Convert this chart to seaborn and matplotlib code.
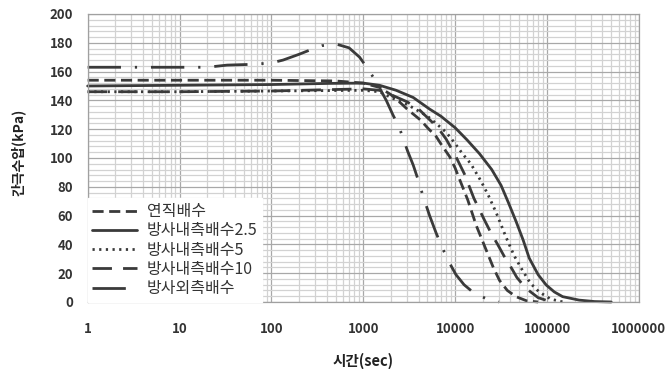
import matplotlib
matplotlib.use("Agg")
import matplotlib.pyplot as plt
import matplotlib.ticker as mticker
import numpy as np
import pandas as pd
import seaborn as sns

# Pore water pressure dissipation for each drainage condition (time in sec, pressure in kPa)
t_vertical = [1, 10, 100, 500, 1000, 1500, 2000, 2570, 3000, 4260, 5000, 6200, 7300, 8700,
              10000, 11200, 13700, 17000, 21800, 26000, 30400, 37000, 46000, 60000, 80000]
p_vertical = [154, 154, 154, 153.5, 152, 149, 144, 138, 134, 126, 121, 115, 108, 101,
              93, 85, 71, 53, 36, 24, 15, 8, 3.7, 0.8, 0]

t_radial_in_25 = [1, 10, 100, 430, 1000, 1500, 2280, 3500, 5260, 7000, 10000, 13500, 18400,
                  25000, 31600, 38000, 46000, 55000, 64000, 80000, 98000, 120000, 148000,
                  224000, 330000, 500000]
p_radial_in_25 = [150, 150.5, 151, 151.8, 152, 150.5, 147, 142, 134, 129, 121, 112.5, 103,
                  92, 81, 69, 56, 43, 30.5, 19, 11.8, 7, 3.7,
                  1.3, 0.3, 0]

t_radial_in_5 = [1, 10, 100, 1000, 1500, 2000, 3040, 3900, 5000, 6200, 7950, 10000,
                 12000, 14800, 19100, 23000, 28000, 35800, 44000, 54000, 66000, 82000,
                 110000, 150000]
p_radial_in_5 = [146, 146, 146.5, 147, 146, 142, 137, 133, 129, 124, 118, 110,
                 103, 96, 84, 74, 62, 45, 32, 22, 13, 7,
                 2, 0]

t_radial_in_10 = [1, 10, 100, 1000, 1500, 2000, 3000, 4000, 5000, 6500, 8000, 10000, 12600,
                  16000, 20800, 25000, 29000, 34000, 39000, 47000, 59000, 80000, 100000, 120000]
p_radial_in_10 = [146, 146, 146.5, 148, 147, 144, 139, 134, 128, 121, 113, 102, 89,
                  72, 57, 47, 40, 32, 26, 17, 9.5, 3, 1, 0]

t_radial_out = [1, 10, 20, 33, 60, 100, 134, 200, 263, 355, 513, 700, 912, 1120, 1380, 1780,
                2100, 2470, 3030, 3500, 3900, 4500, 5270, 6200, 7260, 8700, 10200, 12500,
                16200, 22400, 30000]
p_radial_out = [163, 163, 163, 164.5, 165, 166, 168, 172, 175, 178, 179, 176.5, 170, 162, 153, 140,
                130, 121, 105, 95, 86, 73, 60, 48, 37.5, 27, 19, 12,
                6, 2, 0]

labels = ["연직배수", "방사내측배수2.5", "방사내측배수5", "방사내측배수10", "방사외측배수"]
x_ticks = [1, 10, 100, 1000, 10000, 100000, 1000000]
y_ticks = [0, 20, 40, 60, 80, 100, 120, 140, 160, 180, 200]

series = [
    (labels[0], t_vertical, p_vertical, (4, 2)),
    (labels[1], t_radial_in_25, p_radial_in_25, None),
    (labels[2], t_radial_in_5, p_radial_in_5, (0.8, 1.6)),
    (labels[3], t_radial_in_10, p_radial_in_10, (7, 4)),
    (labels[4], t_radial_out, p_radial_out, (12, 5, 0.8, 5)),
]

frames = [pd.DataFrame({"time": t, "pressure": p, "case": name}) for name, t, p, _ in series]
data = pd.concat(frames, ignore_index=True)

sns.set_style("white")
plt.rcParams["font.family"] = ["Noto Sans CJK KR", "DejaVu Sans"]

line_color = "#3a3a3a"
fig = plt.figure(figsize=(6.69, 3.69), dpi=100)
ax = fig.add_axes([0.131, 0.1816, 0.824, 0.7805])

for name, _, _, dash in series:
    sub = data[data["case"] == name]
    kws = dict(color=line_color, linewidth=2.0, label=name, sort=False,
               estimator=None, ax=ax, clip_on=False)
    if dash is None:
        kws["linestyle"] = "-"
    else:
        kws["dashes"] = dash
    sns.lineplot(data=sub, x="time", y="pressure", **kws)

ax.set_xscale("log")
ax.set_xlim(1, 1e6)
ax.set_ylim(0, 200)
ax.set_xticks(x_ticks)
ax.xaxis.set_major_formatter(mticker.FuncFormatter(lambda v, _: f"{int(round(v))}"))
ax.xaxis.set_minor_locator(mticker.LogLocator(base=10, subs=np.arange(2, 10), numticks=20))
ax.xaxis.set_minor_formatter(mticker.NullFormatter())
ax.set_yticks(y_ticks)
ax.yaxis.set_minor_locator(mticker.MultipleLocator(4))

ax.grid(which="major", color="#a8a8a8", linewidth=0.9)
ax.grid(which="minor", color="#d2d2d2", linewidth=0.9)
ax.set_axisbelow(True)

for side in ["left", "bottom", "top", "right"]:
    ax.spines[side].set_color("#a0a0a0")
    ax.spines[side].set_linewidth(0.9)

ax.tick_params(which="major", direction="out", length=4.5, color="#a0a0a0",
               labelsize=9.5, labelcolor="#333333")
ax.tick_params(axis="y", pad=6)
ax.tick_params(axis="x", pad=10)
ax.tick_params(which="minor", length=0)
for lbl in ax.get_xticklabels() + ax.get_yticklabels():
    lbl.set_fontweight("bold")

ax.set_xlabel("시간(sec)", fontsize=10.5, fontweight="bold", color="#222222")
ax.xaxis.set_label_coords(0.5, -0.175)
ax.set_ylabel("간극수압(kPa)", fontsize=10, fontweight="bold", color="#222222")
ax.yaxis.set_label_coords(-0.112, 0.52)

leg = ax.legend(loc="lower left", bbox_to_anchor=(0.0, 0.0), frameon=True,
                fontsize=11.5, handlelength=2.8, handletextpad=0.6,
                labelspacing=0.14, borderpad=0.3, borderaxespad=0.0)
leg.get_frame().set_facecolor("white")
leg.get_frame().set_edgecolor("white")
leg.get_frame().set_alpha(1.0)
leg.get_frame().set_boxstyle("square", pad=0.0)
for txt in leg.get_texts():
    txt.set_color("#333333")

fig.savefig("out.png", dpi=100)
